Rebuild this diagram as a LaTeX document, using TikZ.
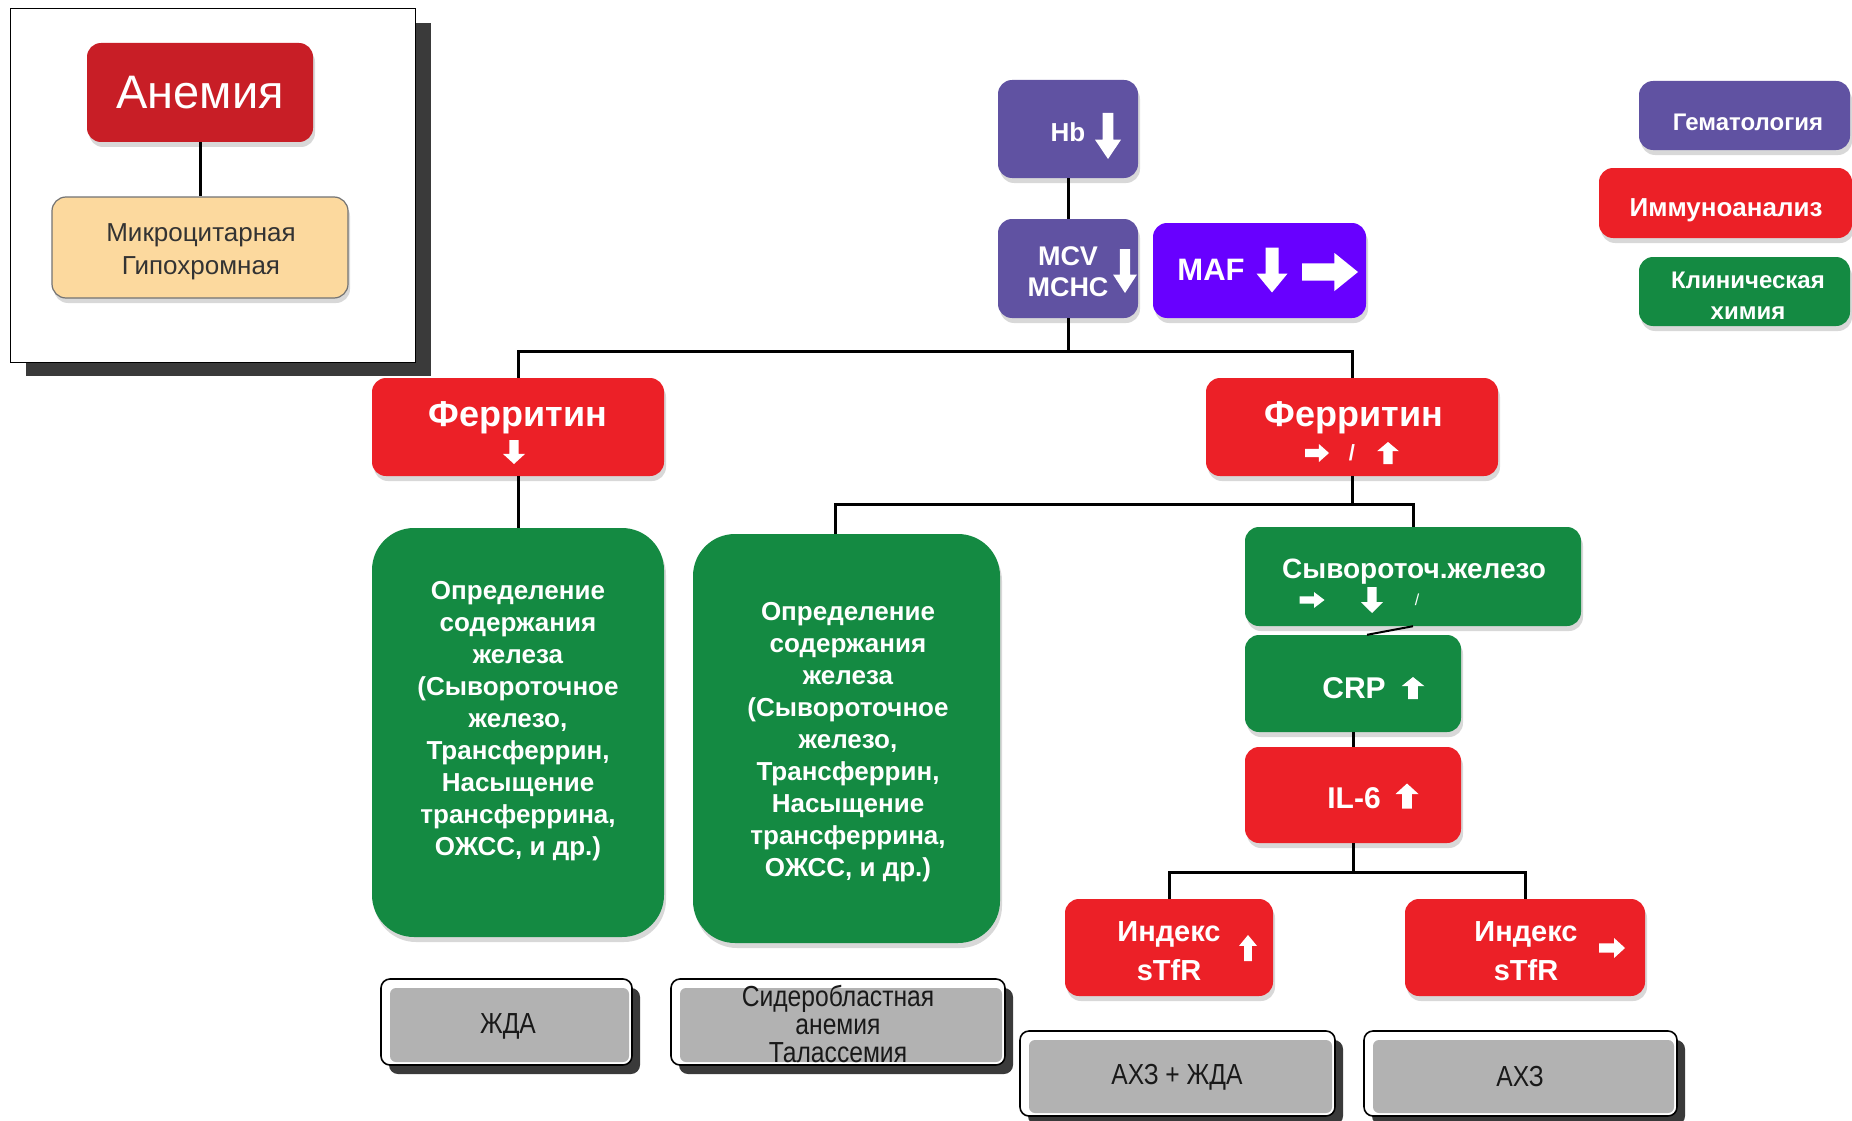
\documentclass[tikz,border=0pt]{standalone}
\usepackage{fontspec}
\setmainfont{Liberation Sans}
\newfontfamily\narrowfont[FakeStretch=0.85]{Liberation Sans}
\usetikzlibrary{shadows}
\definecolor{redA}{RGB}{200,30,38}
\definecolor{redB}{RGB}{236,32,39}
\definecolor{grn}{RGB}{20,138,66}
\definecolor{pur}{RGB}{96,82,162}
\definecolor{vio}{RGB}{104,0,255}
\definecolor{peach}{RGB}{252,217,158}
\definecolor{gbox}{RGB}{178,178,178}
\definecolor{shd}{RGB}{58,58,58}
\newcommand{\fsz}[2]{\fontsize{#1}{#2}\selectfont}
\tikzset{
  pics/uarr/.style={code={\fill[white] (0,-0.5) -- (0.5,-0.08) -- (0.21,-0.08) -- (0.21,0.5) -- (-0.21,0.5) -- (-0.21,-0.08) -- (-0.5,-0.08) -- cycle;}},
  pics/darr/.style={code={\fill[white] (0,0.5) -- (0.5,0.08) -- (0.21,0.08) -- (0.21,-0.5) -- (-0.21,-0.5) -- (-0.21,0.08) -- (-0.5,0.08) -- cycle;}},
  pics/rarr/.style={code={\fill[white] (0.5,0) -- (0.08,-0.5) -- (0.08,-0.23) -- (-0.5,-0.23) -- (-0.5,0.23) -- (0.08,0.23) -- (0.08,0.5) -- cycle;}},
}
\begin{document}
\begin{tikzpicture}[x=1pt,y=-1pt,
  cbox/.style={rounded corners=14pt, inner sep=0pt, text=white, font=\bfseries,
    drop shadow={shadow xshift=2pt,shadow yshift=-5pt,opacity=0.3}},
  bigbox/.style={cbox, rounded corners=42pt},
  conn/.style={line width=3pt, black},
  lbl/.style={text=white, inner sep=0pt, align=center},
  gbtn/.style={draw=black, line width=1.6pt, fill=white, rounded corners=9pt, inner sep=0pt,
    drop shadow={shadow xshift=8pt, shadow yshift=-9pt, opacity=1, fill=shd},
    path picture={\fill[gbox, rounded corners=6pt] ([xshift=9pt,yshift=-9pt]path picture bounding box.north west) rectangle ([xshift=-3pt,yshift=3pt]path picture bounding box.south east);}},
  gtxt/.style={text=black!90, font=\narrowfont\fsz{29}{28}, align=center, inner sep=0pt}
]
\fill[white] (0,0) rectangle (1852,1121);
\useasboundingbox (0,0) rectangle (1852,1121);

% ---------- inset ----------
\node[draw=black, line width=1pt, fill=white, minimum width=405, minimum height=353, inner sep=0pt,
  drop shadow={shadow xshift=16pt, shadow yshift=-14pt, opacity=1, fill=shd}] (frame) at (212.5,185.5) {};
\node[cbox, fill=redA, minimum width=226, minimum height=99, font=\fsz{47}{52}] (anemia) at (200,92.5) {Анемия};
\node[rounded corners=14pt, draw=black!55, line width=1.2pt, fill=peach, minimum width=296, minimum height=101,
  drop shadow={shadow xshift=2pt,shadow yshift=-5pt,opacity=0.3}] (micro) at (200,247.5) {};
\node[lbl, text=black!80, font=\fsz{26}{33}] (microT) at (201,252) {Микроцитарная\\Гипохромная};
\draw[conn] (anemia) -- (micro);

% ---------- connector joints ----------
\coordinate (j1) at (1068,351);
\coordinate (j2) at (1352,504);
\coordinate (j3) at (1353,872);

% ---------- hematology ----------
\node[cbox, fill=pur, minimum width=140, minimum height=98] (hb) at (1068,129) {};
\node[cbox, fill=pur, minimum width=140, minimum height=99] (mcv) at (1068,268.5) {};
\node[cbox, fill=vio, minimum width=213, minimum height=95] (maf) at (1259.5,270.5) {};
\draw[conn] (hb) -- (mcv);
\draw[conn] (mcv.south) -- (j1);
\node[lbl, font=\fsz{26}{30}\bfseries] (hbT) at (1068,132) {Hb};
\pic[xscale=26,yscale=46] at (1108,136) {darr};
\node[lbl, font=\fsz{27}{31}\bfseries] (mcvT) at (1068,272) {MCV\\MCHC};
\pic[xscale=24,yscale=44] at (1125,271) {darr};
\node[lbl, font=\fsz{31}{34}\bfseries] (mafT) at (1211,270) {MAF};
\pic[xscale=31,yscale=45] at (1272,270) {darr};
\pic[xscale=56,yscale=38] at (1330,272) {rarr};

% ---------- legend ----------
\node[cbox, fill=pur, minimum width=211, minimum height=69] (hem) at (1744.5,115.5) {};
\node[cbox, fill=redB, minimum width=253, minimum height=70] (imm) at (1725.5,203) {};
\node[cbox, fill=grn, minimum width=211, minimum height=69] (klin) at (1744.5,291.5) {};
\node[lbl, font=\fsz{24}{28}\bfseries] (hemT) at (1748,122) {Гематология};
\node[lbl, font=\fsz{26}{30}\bfseries] (immT) at (1726,210) {Иммуноанализ};
\node[lbl, font=\fsz{24}{31}\bfseries] (klinT) at (1748,296) {Клиническая\\химия};

% ---------- ferritin ----------
\node[cbox, fill=redB, minimum width=292, minimum height=98] (fer1) at (518,427) {};
\node[cbox, fill=redB, minimum width=292, minimum height=98] (fer2) at (1352,427) {};
\draw[conn] (j1) -| (fer1.north);
\draw[conn] (j1) -| (fer2.north);
\node[lbl, font=\fsz{36}{40}\bfseries] (fer1T) at (518,418) {Ферритин};
\pic[xscale=22,yscale=24] at (514,452) {darr};
\node[lbl, font=\fsz{36}{40}\bfseries] (fer2T) at (1354,418) {Ферритин};
\pic[xscale=24,yscale=18] at (1317,453) {rarr};
\node[lbl, font=\fsz{22}{24}\bfseries] (fer2S) at (1352,453) {/};
\pic[xscale=22,yscale=22] at (1388,453) {uarr};

% ---------- big green boxes ----------
\node[bigbox, fill=grn, minimum width=292, minimum height=409] (g1) at (518,732.5) {};
\node[bigbox, fill=grn, minimum width=307, minimum height=409] (g2) at (846.5,738.5) {};
\draw[conn] (fer1.south) -- (g1.north);
\node[lbl, font=\fsz{26}{32}\bfseries] (g1T) at (518,721) {Определение\\содержания\\железа\\(Сывороточное\\железо,\\Трансферрин,\\Насыщение\\трансферрина,\\ОЖСС, и др.)};
\node[lbl, font=\fsz{26}{32}\bfseries] (g2T) at (848,742) {Определение\\содержания\\железа\\(Сывороточное\\железо,\\Трансферрин,\\Насыщение\\трансферрина,\\ОЖСС, и др.)};

% ---------- right branch ----------
\node[cbox, fill=grn, minimum width=336, minimum height=99] (syv) at (1413,576.5) {};
\node[cbox, fill=grn, minimum width=216, minimum height=97] (crp) at (1353,683.5) {};
\node[cbox, fill=redB, minimum width=216, minimum height=96] (il6) at (1353,795) {};
\draw[conn] (fer2.south) -- (j2);
\draw[conn] (j2) -| ([xshift=-11pt]g2.north);
\draw[conn] (j2) -| (syv.north);
\draw[line width=2pt] (syv.south) -- ([xshift=14pt]crp.north);
\draw[conn] (crp.south) -- (il6.north);
\node[lbl, font=\fsz{28}{32}\bfseries] (syvT) at (1414,572) {Сывороточ.железо};
\pic[xscale=25,yscale=16] at (1312,600) {rarr};
\pic[xscale=22,yscale=26] at (1372,600) {darr};
\node[lbl, font=\fsz{16}{18}] (syvS) at (1417,600) {/};
\node[lbl, font=\fsz{30}{34}\bfseries] (crpT) at (1354,688) {CRP};
\pic[xscale=23,yscale=22] at (1413,688) {uarr};
\node[lbl, font=\fsz{30}{34}\bfseries] (il6T) at (1354,798) {IL-6};
\pic[xscale=23,yscale=25] at (1407,796) {uarr};

% ---------- sTfR ----------
\node[cbox, fill=redB, minimum width=208, minimum height=97] (ix1) at (1169,947.5) {};
\node[cbox, fill=redB, minimum width=240, minimum height=97] (ix2) at (1525,947.5) {};
\draw[conn] (il6.south) -- (j3);
\draw[conn] (j3) -| (ix1.north);
\draw[conn] (j3) -| (ix2.north);
\node[lbl, font=\fsz{29}{39}\bfseries] (ix1T) at (1169,951) {Индекс\\sTfR};
\pic[xscale=18,yscale=26] at (1248,948) {uarr};
\node[lbl, font=\fsz{29}{39}\bfseries] (ix2T) at (1526,951) {Индекс\\sTfR};
\pic[xscale=26,yscale=20] at (1612,948) {rarr};

% ---------- diagnoses ----------
\node[gbtn, minimum width=251, minimum height=86] (zhda) at (506.5,1022) {};
\node[gbtn, minimum width=334, minimum height=86] (sider) at (838,1022) {};
\node[gbtn, minimum width=315, minimum height=85] (axzh) at (1177.5,1073.5) {};
\node[gbtn, minimum width=313, minimum height=85] (axz) at (1520.5,1073.5) {};
\node[gtxt] (zhdaT) at (508,1026) {ЖДА};
\node[gtxt] (siderT) at (838,1024) {Сидеробластная\\анемия\\Талассемия};
\node[gtxt] (axzhT) at (1177,1077) {АХЗ + ЖДА};
\node[gtxt] (axzT) at (1520,1077) {АХЗ};
\end{tikzpicture}
\end{document}
